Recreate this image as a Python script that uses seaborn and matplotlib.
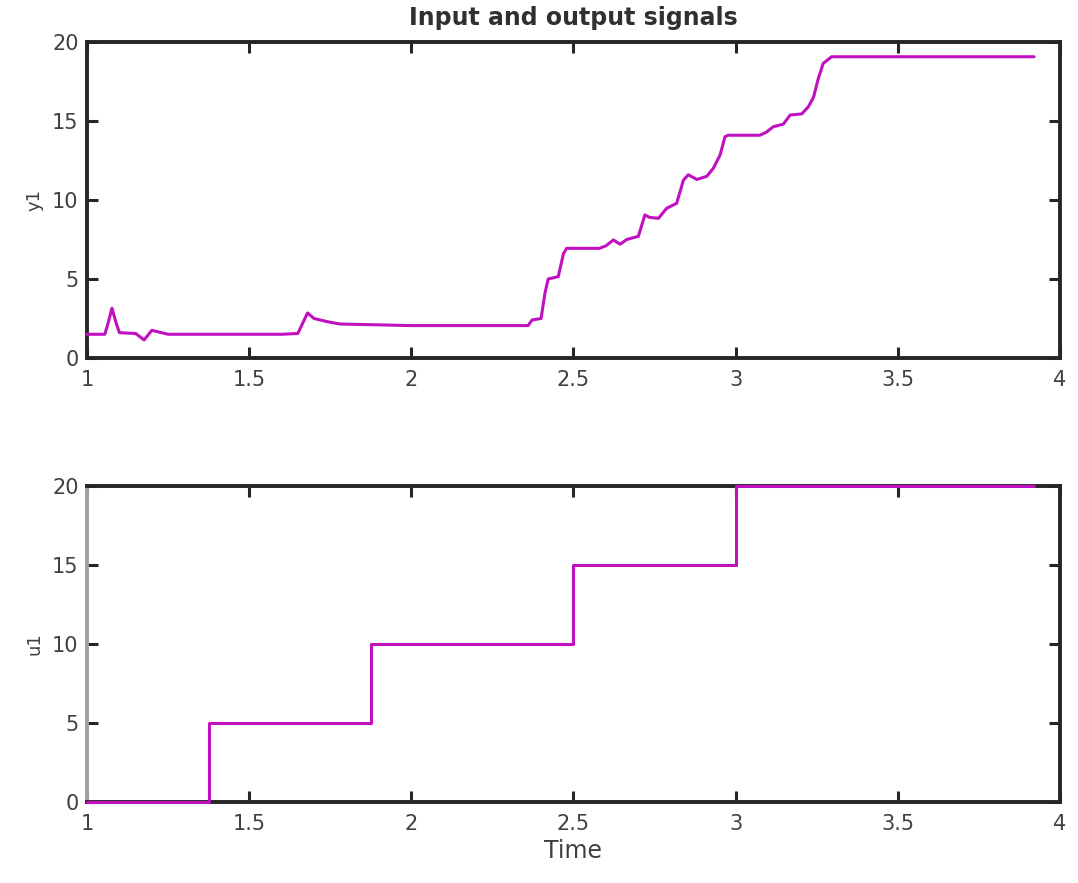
import matplotlib
matplotlib.use("Agg")
import matplotlib.pyplot as plt
import seaborn as sns
import pandas as pd

# Output signal y1
t_out = [1.0, 1.055, 1.065, 1.077, 1.09, 1.10, 1.15, 1.176, 1.20, 1.23, 1.25,
         1.60, 1.65, 1.665, 1.68, 1.70, 1.74, 1.78, 2.0, 2.36, 2.372, 2.40,
         2.412, 2.422, 2.453, 2.469, 2.479, 2.58, 2.60, 2.623, 2.644, 2.664,
         2.70, 2.72, 2.735, 2.762, 2.787, 2.818, 2.839, 2.854, 2.88, 2.911,
         2.931, 2.952, 2.967, 2.977, 3.075, 3.095, 3.116, 3.147, 3.168, 3.204,
         3.224, 3.24, 3.255, 3.27, 3.296, 3.92]
y_out = [1.5, 1.5, 2.2, 3.15, 2.2, 1.6, 1.55, 1.14, 1.75, 1.6, 1.5,
         1.5, 1.55, 2.2, 2.85, 2.5, 2.3, 2.15, 2.05, 2.05, 2.4, 2.5,
         4.1, 5.0, 5.15, 6.6, 6.94, 6.94, 7.1, 7.47, 7.2, 7.5,
         7.7, 9.05, 8.9, 8.84, 9.47, 9.79, 11.26, 11.6, 11.3, 11.5,
         12.0, 12.85, 14.0, 14.1, 14.1, 14.3, 14.64, 14.8, 15.38, 15.45,
         15.9, 16.5, 17.7, 18.65, 19.07, 19.07]

# Input signal u1 (step changes)
t_in = [1.0, 1.375, 1.875, 2.5, 3.0, 3.92]
u_in = [0, 5, 10, 15, 20, 20]

x_ticks = [1, 1.5, 2, 2.5, 3, 3.5, 4]
x_tick_labels = ["1", "1.5", "2", "2.5", "3", "3.5", "4"]
y_ticks = [0, 5, 10, 15, 20]

title = "Input and output signals"
xlabel = "Time"
ylabels = ["y1", "u1"]

sns.set_theme(style="white")
plt.rcParams['font.family'] = ['DejaVu Sans']

color = "#c010c0"
spine_c = "#262626"
text_c = "#404040"

fig = plt.figure(figsize=(10.78, 8.83), dpi=100)
ax1 = fig.add_axes([0.0807, 0.5946, 0.9026, 0.3578])
ax2 = fig.add_axes([0.0807, 0.0918, 0.9026, 0.3578])

df_out = pd.DataFrame({"t": t_out, "y": y_out})
df_in = pd.DataFrame({"t": t_in, "u": u_in})

sns.lineplot(data=df_out, x="t", y="y", ax=ax1, color=color, linewidth=2.2,
             estimator=None, sort=False, zorder=3, clip_on=False)
sns.lineplot(data=df_in, x="t", y="u", ax=ax2, color=color, linewidth=2.2,
             estimator=None, sort=False, drawstyle="steps-post",
             zorder=3, clip_on=False)

for ax, lab in zip([ax1, ax2], ylabels):
    ax.set_xlim(1, 4)
    ax.set_ylim(0, 20)
    ax.set_xticks(x_ticks)
    ax.set_xticklabels(x_tick_labels)
    ax.set_yticks(y_ticks)
    ax.tick_params(direction="in", length=8, width=2.2, color=spine_c,
                   top=True, right=True, bottom=True, left=True,
                   labelsize=15, labelcolor=text_c, pad=6)
    ax.tick_params(axis="x", pad=9)
    for s in ax.spines.values():
        s.set_visible(True)
        s.set_color(spine_c)
        s.set_linewidth(2.8)
        s.set_zorder(2.5)
    ax.set_xlabel("")
    ax.set_ylabel(lab, fontsize=13, color=text_c, labelpad=6)
    ax.grid(False)

ax2.spines["left"].set_color("#a0a0a0")
ax1.set_title(title, fontsize=17, fontweight="bold", color="#303030", pad=12)
ax2.set_xlabel(xlabel, fontsize=17, color=text_c, labelpad=3)

fig.savefig("out.png", dpi=100)
